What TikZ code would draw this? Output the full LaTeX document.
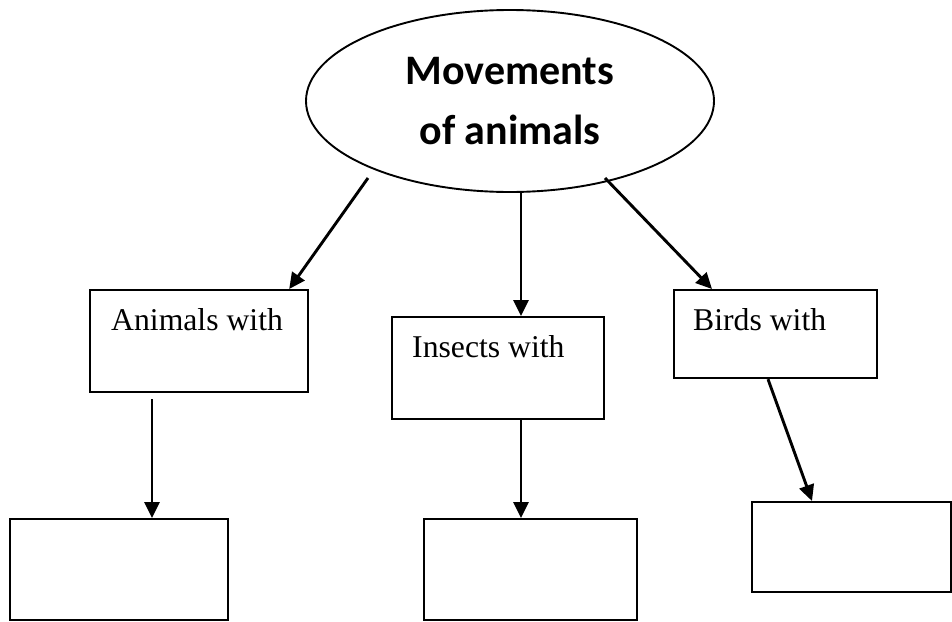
\documentclass[tikz,border=0pt]{standalone}
\usepackage{fontspec}
\setmainfont{Liberation Serif}
\newfontfamily\titlefont{Carlito}
\usetikzlibrary{shapes.geometric,arrows.meta}

\tikzset{
  topic/.style={draw,ellipse,line width=1.9pt,inner sep=0pt,minimum width=408pt,minimum height=182pt,
    align=center,font=\titlefont\bfseries\fontsize{42}{60}\selectfont},
  conceptbox/.style={draw,rectangle,line width=2.2pt,inner sep=0pt,anchor=north west},
  boxtext/.style={anchor=base west,inner sep=0pt,font=\fontsize{31.7}{38}\selectfont},
  link/.style={line width=2.9pt,-{Triangle[length=16pt,width=15pt]}}
}

\begin{document}
\begin{tikzpicture}[x=1pt,y=-1pt]
		\useasboundingbox (0,0) rectangle (952,621);
		\node[topic] (title) at (510,101) {Movements\\of animals};
		% first row
		\node[conceptbox,minimum width=218pt,minimum height=102pt] (animals) at (89,289) {};
		\node[conceptbox,minimum width=212pt,minimum height=102pt] (insects) at (391,316) {};
		\node[conceptbox,minimum width=203pt,minimum height=88pt] (birds) at (673,289) {};
		\node[boxtext] (animalslabel) at ([shift={(22,41)}]animals.north west) {Animals with};
		\node[boxtext] (insectslabel) at ([shift={(21,41)}]insects.north west) {Insects with};
		\node[boxtext] (birdslabel) at ([shift={(20,41)}]birds.north west) {Birds with};
		% second row
		\node[conceptbox,minimum width=218pt,minimum height=101pt] (animalsnext) at (9,518) {};
		\node[conceptbox,minimum width=213pt,minimum height=101pt] (insectsnext) at (423,518) {};
		\node[conceptbox,minimum width=199pt,minimum height=90pt] (birdsnext) at (751,501) {};
		% arrows
		\draw[link] ([shift={(-142,77)}]title.center) -- ([xshift=-20pt]animals.north east);
		\draw[link] ([xshift=11pt]title.south) -- ([xshift=130pt]insects.north west);
		\draw[link] ([shift={(95,77)}]title.center) -- ([xshift=39pt]birds.north west);
		\draw[link] ([shift={(63,6)}]animals.south west) -- ([xshift=143pt]animalsnext.north west);
		\draw[link] ([xshift=130pt]insects.south west) -- ([xshift=98pt]insectsnext.north west);
		\draw[link] ([xshift=95pt]birds.south west) -- ([xshift=61pt]birdsnext.north west);
\end{tikzpicture}
\end{document}
